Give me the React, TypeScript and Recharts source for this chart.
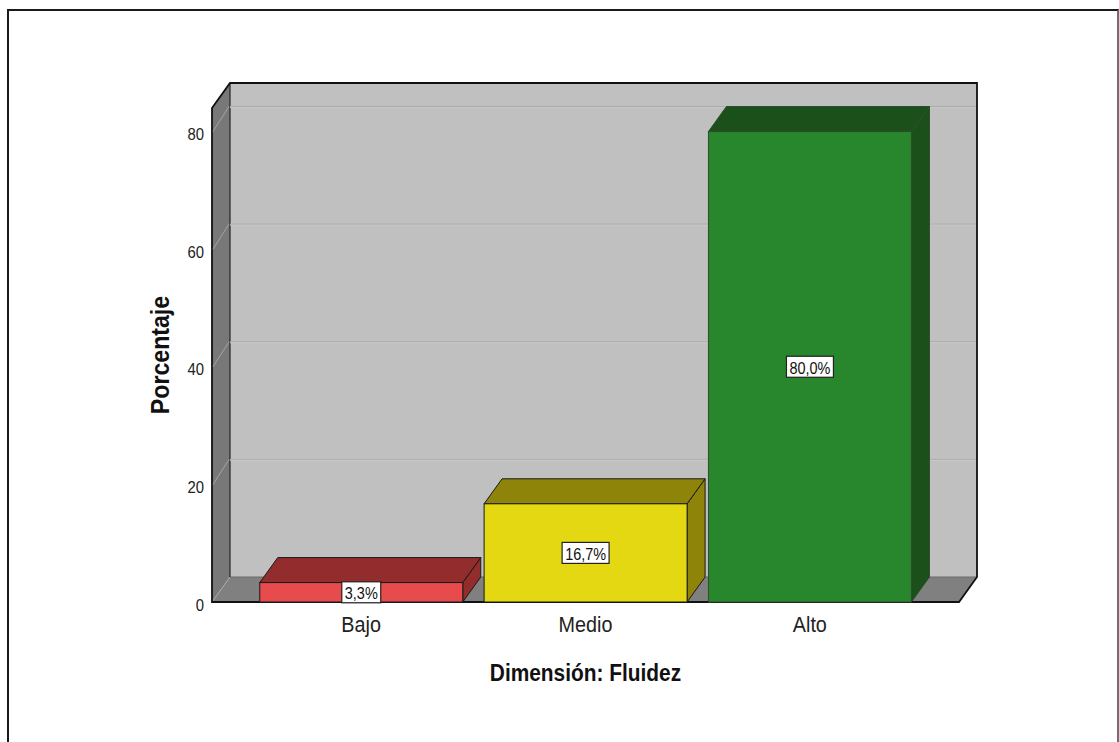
import React from 'react';
import { BarChart, Bar, XAxis, YAxis, ReferenceArea, LabelList } from 'recharts';

const categories = ['Bajo', 'Medio', 'Alto'];
const percentages = [3.3, 16.7, 80.0];
const yTicks = [0, 20, 40, 60, 80];
const yMax = 84;
const xTitle = 'Dimensión: Fluidez';
const yTitle = 'Porcentaje';

const frontColors = ['#e84b4b', '#e3d812', '#28862c'];
const topColors = ['#932c2c', '#8d8409', '#1b501a'];
const edgeColors = ['#1a1a1a', '#1a1a1a', '#2e4a2e'];

const DX = 18;
const DY = -25;
const PAD = 37;
const FONT = '"Liberation Sans", Arial, Helvetica, sans-serif';

const data = categories.map((name, i) => ({ name, value: percentages[i] }));

const charW: Record<string, number> = { ',': 0.278, '%': 0.889 };
const textWidth = (s: string, size: number, sx: number) =>
  s.split('').reduce((a, c) => a + (charW[c] ?? 0.556), 0) * size * sx;

function Walls(props: any) {
  const { x, y, width, height } = props;
  if (x == null || width == null) return null;
  const L = x - PAD;
  const R = x + width + PAD;
  const T = y;
  const B = y + height;
  return (
    <g>
      <rect x={L + DX} y={T + DY} width={R - L} height={B - T} fill="#c0c0c0" />
      <polygon points={`${L},${T} ${L + DX},${T + DY} ${L + DX},${B + DY} ${L},${B}`} fill="#787878" />
      <polygon points={`${L},${B} ${R},${B} ${R + DX},${B + DY} ${L + DX},${B + DY}`} fill="#808080" />
      <line x1={L + DX} y1={B + DY} x2={R + DX} y2={B + DY} stroke="#6a6a6a" strokeWidth={1} />
      <line x1={L} y1={B} x2={L + DX} y2={B + DY} stroke="#a8a8a8" strokeWidth={1} />
      <line x1={L + DX} y1={T + DY} x2={L + DX} y2={B + DY} stroke="#222" strokeWidth={1.2} />
      <path
        d={`M${L},${B} L${L},${T} L${L + DX},${T + DY} L${R + DX},${T + DY} L${R + DX},${B + DY} L${R},${B} Z`}
        fill="none"
        stroke="#111"
        strokeWidth={1.8}
      />
    </g>
  );
}

function GridLine(props: any) {
  const { x, y, width } = props;
  if (x == null || width == null) return null;
  const L = x - PAD;
  const R = x + width + PAD;
  return (
    <g>
      <line x1={L + DX} y1={y + DY} x2={R + DX - 1} y2={y + DY} stroke="#aaaaaa" strokeWidth={1} />
      <line x1={L + DX} y1={y + DY + 1} x2={R + DX - 1} y2={y + DY + 1} stroke="#c8c8c8" strokeWidth={1} />
      <line x1={L + 1} y1={y} x2={L + DX - 1} y2={y + DY} stroke="#a4a4a4" strokeWidth={1} />
    </g>
  );
}

function Bar3D(props: any) {
  const { x, y, width: w, height: h, index } = props;
  if (x == null || w == null || h == null) return null;
  const front = frontColors[index % frontColors.length];
  const top = topColors[index % topColors.length];
  const edge = edgeColors[index % edgeColors.length];
  return (
    <g>
      <polygon
        points={`${x + w},${y} ${x + w + DX},${y + DY} ${x + w + DX},${y + h + DY} ${x + w},${y + h}`}
        fill={top}
        stroke={edge}
        strokeWidth={1}
        strokeLinejoin="round"
      />
      <polygon
        points={`${x},${y} ${x + DX},${y + DY} ${x + w + DX},${y + DY} ${x + w},${y}`}
        fill={top}
        stroke={edge}
        strokeWidth={1}
        strokeLinejoin="round"
      />
      <rect x={x} y={y} width={w} height={h} fill={front} stroke={edge} strokeWidth={1} />
    </g>
  );
}

function ValueLabel(props: any) {
  const vb = props.viewBox && props.viewBox.width != null ? props.viewBox : props;
  const { x, y, width, height } = vb;
  if (x == null || width == null) return null;
  const text = Number(props.value).toFixed(1).replace('.', ',') + '%';
  const size = 17;
  const sx = 0.85;
  const tw = textWidth(text, size, sx) + 6;
  const bh = 21;
  const cx = x + width / 2;
  const cy = y + height / 2;
  return (
    <g>
      <rect x={cx - tw / 2} y={cy - bh / 2} width={tw} height={bh} fill="#ffffff" stroke="#222" strokeWidth={1.2} />
      <text
        transform={`translate(${cx},${cy + 1}) scale(${sx},1)`}
        textAnchor="middle"
        dominantBaseline="central"
        fontFamily={FONT}
        fontSize={size}
        fill="#111"
      >
        {text}
      </text>
    </g>
  );
}

function YTick(props: any) {
  const { x, y, payload } = props;
  return (
    <text
      transform={`translate(${x},${y + 3}) scale(0.93,1)`}
      textAnchor="end"
      dominantBaseline="central"
      fontFamily={FONT}
      fontSize={16}
      fill="#222"
    >
      {payload.value}
    </text>
  );
}

function XTick(props: any) {
  const { x, y, payload } = props;
  return (
    <text
      transform={`translate(${x},${y + 30}) scale(0.9,1)`}
      textAnchor="middle"
      fontFamily={FONT}
      fontSize={22}
      fill="#222"
    >
      {payload.value}
    </text>
  );
}

const XTitle = (p: any) => {
  const vb = p.viewBox || {};
  return (
    <text
      transform={`translate(${vb.x + vb.width / 2},${vb.y + 79}) scale(0.87,1)`}
      textAnchor="middle"
      fontFamily={FONT}
      fontWeight="bold"
      fontSize={24}
      fill="#111"
    >
      {xTitle}
    </text>
  );
};

const YTitle = (p: any) => {
  const vb = p.viewBox || {};
  return (
    <text
      transform={`translate(${vb.x + 17},${vb.y + vb.height / 2}) rotate(-90) scale(0.89,1)`}
      textAnchor="middle"
      fontFamily={FONT}
      fontWeight="bold"
      fontSize={26}
      fill="#111"
    >
      {yTitle}
    </text>
  );
};

export default function App() {
  return (
    <div style={{ position: 'absolute', left: 0, top: 0, width: 1119, height: 742, background: '#fff', overflow: 'hidden' }}>
      <div
        style={{
          position: 'absolute',
          left: 7,
          top: 9,
          width: 1112,
          height: 745,
          boxSizing: 'border-box',
          borderLeft: '2px solid #1a1a1a',
          borderTop: '2px solid #1a1a1a',
          borderRight: '2px solid #707070',
        }}
      />
      <div style={{ position: 'absolute', left: 0, top: 0 }}>
        <BarChart
          width={1119}
          height={742}
          data={data}
          margin={{ top: 108, right: 160, bottom: 80, left: 152 }}
          barCategoryGap="4.8%"
        >
          <XAxis
            dataKey="name"
            type="category"
            padding={{ left: PAD, right: PAD }}
            height={60}
            tickLine={false}
            axisLine={false}
            tickSize={0}
            tickMargin={0}
            interval={0}
            tick={XTick}
            label={XTitle}
          />
          <YAxis
            type="number"
            domain={[0, yMax]}
            ticks={yTicks}
            width={60}
            tickLine={false}
            axisLine={false}
            tickSize={0}
            tickMargin={8}
            tick={YTick}
            label={YTitle}
          />
          <ReferenceArea y1={0} y2={yMax} shape={Walls} />
          {yTicks
            .filter((v) => v > 0)
            .map((v) => (
              <ReferenceArea key={v} y1={0} y2={v} shape={GridLine} />
            ))}
          <Bar dataKey="value" isAnimationActive={false} shape={Bar3D}>
            <LabelList dataKey="value" content={ValueLabel} />
          </Bar>
        </BarChart>
      </div>
    </div>
  );
}
